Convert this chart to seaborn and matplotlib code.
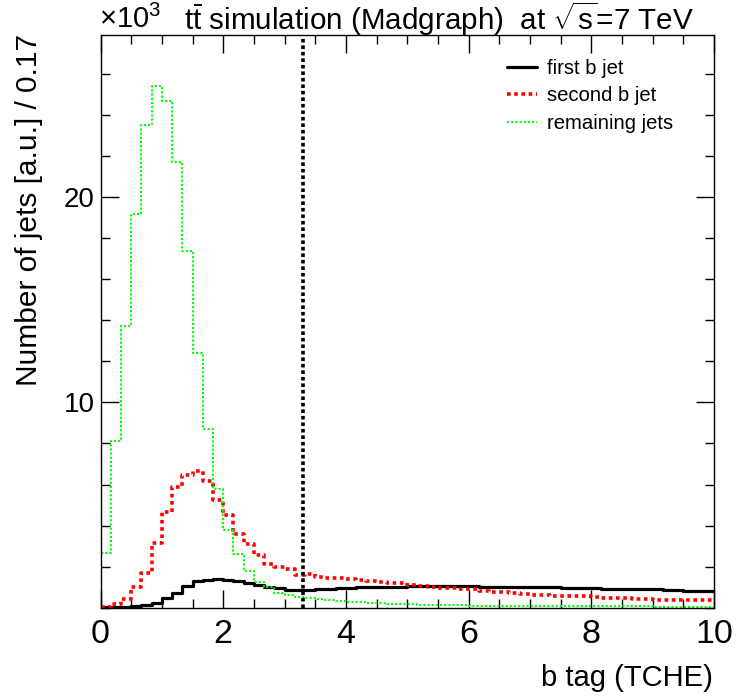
import numpy as np
import pandas as pd
import matplotlib
matplotlib.use("Agg")
import matplotlib.pyplot as plt
import seaborn as sns

# ---- data (values in units of 10^3, 60 bins of width 1/6 from 0 to 10) ----
bin_edges = [i / 6 for i in range(61)]

first_b = [0.02, 0.03, 0.05, 0.07, 0.12, 0.25, 0.47, 0.73, 1.07, 1.29,
           1.35, 1.41, 1.37, 1.29, 1.20, 1.10, 1.02, 0.95, 0.87, 0.86,
           0.88, 0.90, 0.93, 0.95, 0.98, 1.00, 1.00, 1.02, 1.02, 1.03,
           1.04, 1.05, 1.05, 1.06, 1.06, 1.05, 1.04, 1.03, 1.02, 1.02,
           1.01, 1.00, 1.00, 0.99, 0.99, 0.98, 0.98, 0.97, 0.95, 0.92,
           0.90, 0.89, 0.90, 0.91, 0.90, 0.88, 0.85, 0.83, 0.82, 0.80]

second_b = [0.05, 0.20, 0.40, 1.00, 1.70, 3.14, 4.68, 5.90, 6.47, 6.67,
            6.15, 5.25, 4.52, 3.60, 3.10, 2.57, 2.13, 2.00, 1.90, 1.60,
            1.64, 1.51, 1.46, 1.43, 1.38, 1.35, 1.30, 1.27, 1.22, 1.18,
            1.12, 1.08, 1.02, 0.97, 0.95, 0.93, 0.90, 0.80, 0.78, 0.75,
            0.70, 0.66, 0.62, 0.60, 0.59, 0.58, 0.57, 0.56, 0.50, 0.48,
            0.47, 0.45, 0.40, 0.40, 0.39, 0.38, 0.38, 0.37, 0.38, 0.37]

remaining = [2.65, 8.10, 13.70, 19.20, 23.50, 25.40, 24.70, 21.70, 17.40, 12.40,
             8.70, 5.80, 3.80, 2.60, 1.80, 1.27, 1.00, 0.73, 0.62, 0.51,
             0.46, 0.40, 0.36, 0.32, 0.29, 0.26, 0.24, 0.22, 0.20, 0.18,
             0.16, 0.15, 0.14, 0.13, 0.12, 0.11, 0.10, 0.10, 0.09, 0.09,
             0.08, 0.08, 0.08, 0.07, 0.07, 0.07, 0.07, 0.07, 0.06, 0.06,
             0.06, 0.06, 0.06, 0.06, 0.05, 0.05, 0.05, 0.05, 0.05, 0.05]

series_labels = ["first b jet", "second b jet", "remaining jets"]
cut_value = 3.3

edges_arr = np.array(bin_edges)
centers = 0.5 * (edges_arr[:-1] + edges_arr[1:])
frames = []
for lab, vals in zip(series_labels, [first_b, second_b, remaining]):
    frames.append(pd.DataFrame({"x": centers, "w": vals, "s": lab}))
df = pd.concat(frames, ignore_index=True)

sns.set_theme(style="ticks")
plt.rcParams["font.family"] = ["Liberation Sans", "DejaVu Sans"]
plt.rcParams["mathtext.fontset"] = "custom"
plt.rcParams["mathtext.rm"] = "Liberation Sans"
plt.rcParams["mathtext.it"] = "Liberation Sans"
plt.rcParams["mathtext.bf"] = "Liberation Sans:bold"
for k in ["text.color", "axes.labelcolor", "xtick.color", "ytick.color", "axes.edgecolor"]:
    plt.rcParams[k] = "black"

fig = plt.figure(figsize=(7.36, 6.98), dpi=100)
ax = fig.add_axes([0.1366, 0.1294, 0.8334, 0.8205])

styles = {
    series_labels[0]: dict(color="black", lw=2.3, ls="-"),
    series_labels[1]: dict(color="#ff0000", lw=2.6, ls=(0, (1, 1))),
    series_labels[2]: dict(color="#00ff00", lw=1.5, ls=(0, (1, 1))),
}
handles = []
for lab in series_labels:
    sub = df[df["s"] == lab].reset_index(drop=True)
    st = styles[lab]
    sns.histplot(data=sub, x="x", weights="w", bins=bin_edges, element="step",
                 fill=False, color=st["color"], linewidth=st["lw"],
                 linestyle=st["ls"], ax=ax)
    handles.append(plt.Line2D([], [], color=st["color"], lw=st["lw"], ls=st["ls"]))

ax.axvline(cut_value, color="black", lw=2.6, ls=(0, (1, 0.8)))

ax.set_xlim(0, 10)
ax.set_ylim(0, 27.9)
ax.set_xticks([0, 2, 4, 6, 8, 10])
ax.set_xticks(np.arange(0, 10.01, 0.5), minor=True)
ax.set_yticks([10, 20])
ax.set_yticks(np.arange(0, 27.9, 2), minor=True)
ax.tick_params(axis="both", which="both", direction="in", top=True, right=True,
               color="black", labelcolor="black", width=1.0)
ax.tick_params(axis="both", which="major", length=13)
ax.tick_params(axis="both", which="minor", length=6.5)
ax.tick_params(axis="x", which="major", labelsize=24.5, pad=8)
ax.tick_params(axis="y", which="major", labelsize=20, pad=4)
for sp in ax.spines.values():
    sp.set_visible(True)
    sp.set_linewidth(1.0)
    sp.set_color("black")

ax.set_xlabel("")
ax.set_ylabel("")
fig.text(0.968, 0.028, "b tag (TCHE)", ha="right", va="center", fontsize=21)
fig.text(0.040, 0.952, "Number of jets [a.u.] / 0.17", ha="center", va="top",
         rotation=90, fontsize=21.5)
fig.text(0.134, 0.960, r"$\times$10$^{3}$", ha="left", va="baseline", fontsize=21)
fig.text(0.250, 0.957, r"t$\mathrm{\bar{t}}$ simulation (Madgraph)  at $\sqrt{\mathrm{s}}$=7 TeV",
         ha="left", va="baseline", fontsize=21.3)

ax.legend(handles, series_labels, loc="upper left", bbox_to_anchor=(0.633, 0.99),
          frameon=False, fontsize=14.6, handlelength=1.5, handletextpad=0.45,
          labelspacing=0.42)

fig.savefig("out.png", dpi=100)
